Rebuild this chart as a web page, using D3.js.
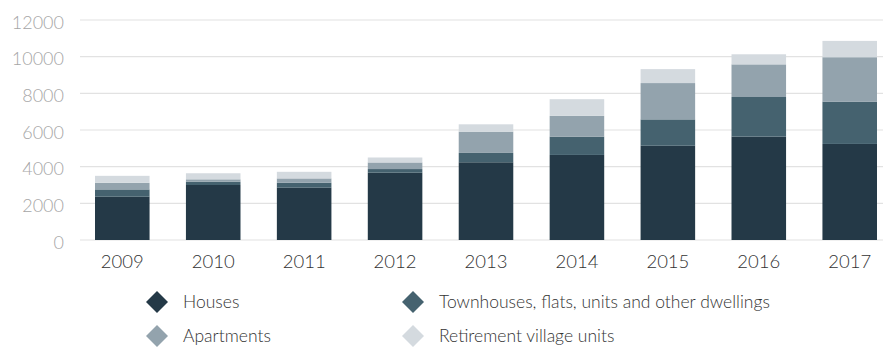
<!DOCTYPE html>
<html>
<head>
<meta charset="utf-8">
<script src="https://cdn.jsdelivr.net/npm/d3@7"></script>
<style>
  html, body { margin: 0; padding: 0; background: #fff; }
  svg { display: block; font-family: Lato, "Open Sans", sans-serif; }
</style>
</head>
<body>
<svg id="chart" width="883" height="349"></svg>
<script>
// Dwelling consents by type, 2009–2017
const years = ["2009", "2010", "2011", "2012", "2013", "2014", "2015", "2016", "2017"];
const houses      = [2360, 3000, 2850, 3670, 4240, 4640, 5140, 5640, 5240];
const townhouses  = [400, 180, 270, 200, 510, 1000, 1440, 2160, 2310];
const apartments  = [360, 130, 240, 360, 1160, 1130, 1980, 1780, 2420];
const retirement  = [380, 330, 360, 270, 400, 910, 760, 550, 890];
const seriesNames = ["Houses", "Townhouses, flats, units and other dwellings", "Apartments", "Retirement village units"];
const yTicks = [0, 2000, 4000, 6000, 8000, 10000, 12000];

const colors = ["#243947", "#45626f", "#93a3ad", "#d4dadf"];
const keys = ["houses", "townhouses", "apartments", "retirement"];

const rows = years.map((y, i) => ({
  year: y,
  houses: houses[i],
  townhouses: townhouses[i],
  apartments: apartments[i],
  retirement: retirement[i]
}));

const svg = d3.select("#chart");
const plotLeft = 80, plotRight = 883;
const yTop = 20, yBottom = 240;

const x = d3.scaleBand()
  .domain(years)
  .range([plotLeft, 892])
  .paddingInner(0.4)
  .paddingOuter(0.165);

const y = d3.scaleLinear()
  .domain([0, 12000])
  .range([yBottom, yTop]);

// Horizontal gridlines
svg.append("g")
  .selectAll("line")
  .data(yTicks)
  .join("line")
  .attr("x1", plotLeft)
  .attr("x2", plotRight)
  .attr("y1", d => y(d))
  .attr("y2", d => y(d))
  .attr("stroke", "#e2e2e2")
  .attr("stroke-width", 1.2);

// Y axis tick labels
const yAxis = d3.axisLeft(y).tickValues(yTicks).tickSize(0).tickPadding(0).tickFormat(d3.format("d"));
const gy = svg.append("g").attr("transform", `translate(64,0)`).call(yAxis);
gy.select(".domain").remove();
gy.selectAll("text")
  .attr("fill", "#a6a6a6")
  .attr("font-size", 18)
  .attr("font-weight", 300)
  .attr("font-family", "Lato, sans-serif")
  .attr("dy", "0.45em");

// Stacked bars
const stack = d3.stack().keys(keys);
const layers = stack(rows);

svg.append("g")
  .selectAll("g")
  .data(layers)
  .join("g")
  .attr("fill", (d, i) => colors[i])
  .selectAll("rect")
  .data(d => d)
  .join("rect")
  .attr("x", d => x(d.data.year))
  .attr("width", x.bandwidth())
  .attr("y", d => y(d[1]))
  .attr("height", d => y(d[0]) - y(d[1]));

// X axis labels
const xAxis = d3.axisBottom(x).tickSize(0).tickPadding(0);
const gx = svg.append("g").attr("transform", `translate(0,${yBottom})`).call(xAxis);
gx.select(".domain").remove();
gx.selectAll("text")
  .attr("fill", "#333")
  .attr("font-size", 18.5)
  .attr("font-weight", 300)
  .attr("font-family", "Lato, sans-serif")
  .attr("dy", "1.5em");

// Legend
const legendPos = [
  { x: 157, y: 302 },
  { x: 413, y: 302 },
  { x: 157, y: 336 },
  { x: 413, y: 336 }
];
const legend = svg.append("g")
  .selectAll("g")
  .data(seriesNames)
  .join("g")
  .attr("transform", (d, i) => `translate(${legendPos[i].x},${legendPos[i].y})`);

legend.append("path")
  .attr("d", "M0,-11L11,0L0,11L-11,0Z")
  .attr("fill", (d, i) => colors[i]);

legend.append("text")
  .attr("x", 26)
  .attr("dy", "0.35em")
  .attr("fill", "#333")
  .attr("font-size", 17.5)
  .attr("font-weight", 300)
  .attr("font-family", "Lato, sans-serif")
  .text(d => d);
</script>
</body>
</html>
